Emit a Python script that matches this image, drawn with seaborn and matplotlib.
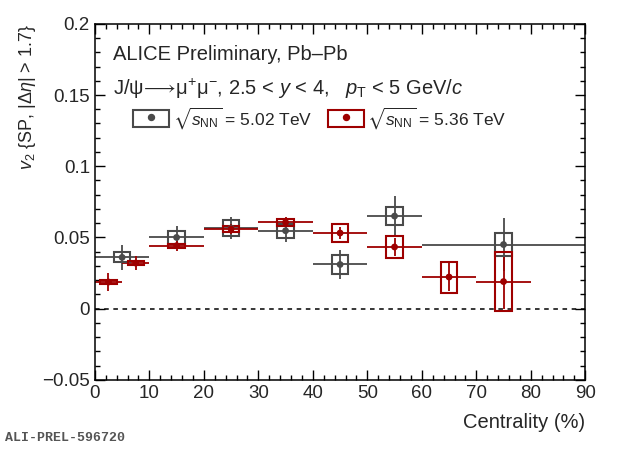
import matplotlib
matplotlib.use("Agg")
import matplotlib.pyplot as plt
import seaborn as sns
import pandas as pd
from matplotlib.patches import Patch
from matplotlib.lines import Line2D
from matplotlib.legend_handler import HandlerTuple
from matplotlib.ticker import MultipleLocator

# 5.02 TeV
cent_502 = [5, 15, 25, 35, 45, 55, 75]
halfw_502 = [5, 5, 5, 5, 5, 5, 15]
v2_502 = [0.036, 0.050, 0.0566, 0.0547, 0.031, 0.065, 0.045]
stat_502 = [0.009, 0.008, 0.0078, 0.0082, 0.0105, 0.014, 0.0187]
syst_502 = [0.0035, 0.0047, 0.0058, 0.005, 0.0064, 0.0065, 0.0082]

# 5.36 TeV
cent_536 = [2.5, 7.5, 15, 25, 35, 45, 55, 65, 75]
halfw_536 = [2.5, 2.5, 5, 5, 5, 5, 5, 5, 5]
v2_536 = [0.0187, 0.032, 0.0442, 0.0559, 0.0606, 0.0531, 0.0433, 0.0222, 0.019]
stat_536 = [0.006, 0.0047, 0.0035, 0.0033, 0.0035, 0.0039, 0.006, 0.010, 0.019]
syst_536 = [0.0015, 0.0015, 0.0015, 0.0023, 0.0026, 0.006, 0.0078, 0.0109, 0.0205]

gris = "#4a4a4a"
rojo = "#9e0000"

sns.set_style("ticks")
plt.rcParams["font.family"] = ["Liberation Sans", "DejaVu Sans"]
plt.rcParams["mathtext.fontset"] = "custom"
plt.rcParams["mathtext.rm"] = "Liberation Sans"
plt.rcParams["mathtext.it"] = "Liberation Sans:italic"
plt.rcParams["mathtext.sf"] = "Liberation Sans"
plt.rcParams["mathtext.fallback"] = "stixsans"

fig = plt.figure(figsize=(6.2, 4.49), dpi=100)
ax = fig.add_axes([0.153, 0.154, 0.791, 0.793])

df1 = pd.DataFrame({"cent": cent_502, "v2": v2_502, "hw": halfw_502,
                    "stat": stat_502, "syst": syst_502})
df2 = pd.DataFrame({"cent": cent_536, "v2": v2_536, "hw": halfw_536,
                    "stat": stat_536, "syst": syst_536})

ax.axhline(0, color="black", ls=(0, (3, 3)), lw=1.1, zorder=1)

for df, col in [(df1, gris), (df2, rojo)]:
    ax.errorbar(df.cent, df.v2, xerr=df.hw, yerr=df.stat, fmt="none",
                ecolor=col, elinewidth=1.3, capsize=0, zorder=2)
    ax.bar(df.cent, 2 * df.syst, bottom=df.v2 - df.syst, width=3,
           fill=False, edgecolor=col, linewidth=1.5, zorder=3)
    sns.scatterplot(data=df, x="cent", y="v2", color=col, s=24,
                    edgecolor="none", ax=ax, zorder=4)

ax.set_xlim(0, 90)
ax.set_ylim(-0.05, 0.2)
ax.xaxis.set_major_locator(MultipleLocator(10))
ax.xaxis.set_minor_locator(MultipleLocator(2))
ax.yaxis.set_minor_locator(MultipleLocator(0.01))
ax.set_yticks([-0.05, 0, 0.05, 0.1, 0.15, 0.2])
ax.set_yticklabels(["\u22120.05", "0", "0.05", "0.1", "0.15", "0.2"])
ax.tick_params(which="both", direction="in", top=True, right=True,
               labelsize=13.5, width=1, color="black")
ax.tick_params(which="major", length=7.5)
ax.tick_params(which="minor", length=3.8)
for s in ax.spines.values():
    s.set_linewidth(1.1)
    s.set_color("black")

ax.set_xlabel("Centrality (%)", fontsize=14.5, loc="right", labelpad=8)
ax.set_ylabel(r"$v_2$ {SP, |$\Delta\eta$| > 1.7}", fontsize=13, loc="top", labelpad=3)

ax.text(0.037, 0.913, "ALICE Preliminary, Pb\u2013Pb", transform=ax.transAxes,
        fontsize=14.5, va="center", ha="left")
ax.text(0.037, 0.818,
        r"J/ψ$\!\longrightarrow\!\mathrm{\mu^{+}\mu^{-}}$, 2.5 < $y$ < 4,   $p_{\mathrm{T}}$ < 5 GeV/$c$",
        transform=ax.transAxes, fontsize=14.5, va="center", ha="left")

handles = [
    (Patch(facecolor="none", edgecolor=gris, linewidth=1.5),
     Line2D([], [], marker="o", ls="none", color=gris, markersize=4.3)),
    (Patch(facecolor="none", edgecolor=rojo, linewidth=1.5),
     Line2D([], [], marker="o", ls="none", color=rojo, markersize=4.3)),
]
labels = [r"$\sqrt{s_{\mathrm{NN}}}$ = 5.02 TeV", r"$\sqrt{s_{\mathrm{NN}}}$ = 5.36 TeV"]
ax.legend(handles, labels, ncol=2, loc="upper left", bbox_to_anchor=(0.078, 0.772),
          frameon=False, fontsize=12.5, handlelength=2.08, handleheight=1.1,
          handletextpad=0.2, columnspacing=0.9, borderpad=0, borderaxespad=0,
          handler_map={tuple: HandlerTuple(ndivide=1)})

fig.text(0.008, 0.025, "ALI-PREL-596720", fontsize=9.5, color="#555555",
         family="Liberation Mono", fontweight="bold", va="center")

fig.savefig("out.png", dpi=100)
